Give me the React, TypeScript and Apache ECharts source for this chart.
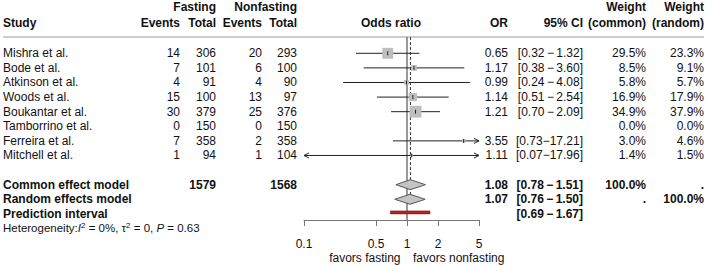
import React, { useEffect, useRef } from "react";
import * as echarts from "echarts";

// ---------- data ----------
const studyNames = [
  "Mishra et al.",
  "Bode et al.",
  "Atkinson et al.",
  "Woods et al.",
  "Boukantar et al.",
  "Tamborrino et al.",
  "Ferreira et al.",
  "Mitchell et al.",
];
const fastingEvents = [14, 7, 4, 15, 30, 0, 7, 1];
const fastingTotal = [306, 101, 91, 100, 379, 150, 358, 94];
const nonfastingEvents = [20, 6, 4, 13, 25, 0, 2, 1];
const nonfastingTotal = [293, 100, 90, 97, 376, 150, 358, 104];
const oddsRatio: (number | null)[] = [0.65, 1.17, 0.99, 1.14, 1.21, null, 3.55, 1.11];
const ciLower: (number | null)[] = [0.32, 0.38, 0.24, 0.51, 0.7, null, 0.73, 0.07];
const ciUpper: (number | null)[] = [1.32, 3.6, 4.08, 2.54, 2.09, null, 17.21, 17.96];
const weightCommon = [29.5, 8.5, 5.8, 16.9, 34.9, 0.0, 3.0, 1.4];
const weightRandom = [23.3, 9.1, 5.7, 17.9, 37.9, 0.0, 4.6, 1.5];

const pooledNames = ["Common effect model", "Random effects model"];
const pooledOR = [1.08, 1.07];
const pooledLower = [0.78, 0.76];
const pooledUpper = [1.51, 1.5];
const pooledWeightCommon = ["100.0%", "."];
const pooledWeightRandom = [".", "100.0%"];
const totalFasting = 1579;
const totalNonfasting = 1568;

const predictionLower = 0.69;
const predictionUpper = 1.67;

const tickValues = [0.1, 0.5, 1, 2, 5];
const tickLabels = ["0.1", "0.5", "1", "2", "5"];
const labelLeft = "favors fasting";
const labelRight = "favors nonfasting";

// ---------- layout ----------
const FONT = '"Liberation Sans", Arial, Helvetica, sans-serif';
const TXT = "#111";
const COL = {
  study: 3,
  fEv: 180,
  fTot: 216,
  nEv: 262,
  nTot: 297,
  odds: 391,
  or: 508,
  ci: 583,
  wC: 646,
  wR: 704,
};
const H1 = -3.15;
const H2 = -2.07;
const POOLED_ROWS = [9, 10];
const PRED_ROW = 11;
const PRED_BAR_ROW = 10.9;
const HET_ROW = 12;
const FAVORS_ROW = 14.02;
const Y_MIN = -1.116;
const Y_MAX = 11.42;

const lg = (v: number) => Math.log10(v);
const AX_MIN = lg(tickValues[0]);
const AX_MAX = lg(tickValues[tickValues.length - 1]);
const f2 = (v: number) => v.toFixed(2);
const fmtCI = (lo: number, hi: number) =>
  hi < 10 ? `[${f2(lo)}\u2009\u2212\u2009${f2(hi)}]` : `[${f2(lo)}\u2212${f2(hi)}]`;
const fmtW = (w: number) => w.toFixed(1) + "%";

type Cell = {
  row: number;
  x: number;
  text: string;
  align: "left" | "right" | "center";
  bold?: boolean;
};

function buildCells(): Cell[] {
  const c: Cell[] = [];
  const add = (row: number, x: number, text: string, align: Cell["align"], bold = false) =>
    c.push({ row, x, text, align, bold });
  // header
  add(H1, COL.fTot, "Fasting", "right", true);
  add(H1, COL.nTot, "Nonfasting", "right", true);
  add(H1, COL.wC, "Weight", "right", true);
  add(H1, COL.wR, "Weight", "right", true);
  add(H2, COL.study, "Study", "left", true);
  add(H2, COL.fEv, "Events", "right", true);
  add(H2, COL.fTot, "Total", "right", true);
  add(H2, COL.nEv, "Events", "right", true);
  add(H2, COL.nTot, "Total", "right", true);
  add(H2, COL.odds, "Odds ratio", "center", true);
  add(H2, COL.or, "OR", "right", true);
  add(H2, COL.ci, "95% CI", "right", true);
  add(H2, COL.wC, "(common)", "right", true);
  add(H2, COL.wR, "(random)", "right", true);
  // studies
  studyNames.forEach((name, i) => {
    add(i, COL.study, name, "left");
    add(i, COL.fEv, String(fastingEvents[i]), "right");
    add(i, COL.fTot, String(fastingTotal[i]), "right");
    add(i, COL.nEv, String(nonfastingEvents[i]), "right");
    add(i, COL.nTot, String(nonfastingTotal[i]), "right");
    const or = oddsRatio[i];
    const lo = ciLower[i];
    const hi = ciUpper[i];
    if (or != null && lo != null && hi != null) {
      add(i, COL.or, f2(or), "right");
      add(i, COL.ci, fmtCI(lo, hi), "right");
    }
    add(i, COL.wC, fmtW(weightCommon[i]), "right");
    add(i, COL.wR, fmtW(weightRandom[i]), "right");
  });
  // pooled
  pooledNames.forEach((name, k) => {
    const r = POOLED_ROWS[k];
    add(r, COL.study, name, "left", true);
    if (k === 0) {
      add(r, COL.fTot, String(totalFasting), "right", true);
      add(r, COL.nTot, String(totalNonfasting), "right", true);
    }
    add(r, COL.or, f2(pooledOR[k]), "right", true);
    add(r, COL.ci, fmtCI(pooledLower[k], pooledUpper[k]), "right", true);
    add(r, COL.wC, pooledWeightCommon[k], "right", true);
    add(r, COL.wR, pooledWeightRandom[k], "right", true);
  });
  add(PRED_ROW, COL.study, "Prediction interval", "left", true);
  add(PRED_ROW, COL.ci, fmtCI(predictionLower, predictionUpper), "right", true);
  return c;
}

export default function App() {
  const ref = useRef<HTMLDivElement>(null);

  useEffect(() => {
    document.body.style.margin = "0";
    if (!ref.current) return;
    const chart = echarts.init(ref.current, undefined, { renderer: "svg" });
    const cells = buildCells();
    const estIdx = oddsRatio.map((v, i) => (v != null ? i : -1)).filter((i) => i >= 0);

    const option: any = {
      animation: false,
      backgroundColor: "#fff",
      grid: { left: 304, right: 230, top: 37, bottom: 47, containLabel: false },
      xAxis: {
        type: "value",
        min: AX_MIN,
        max: AX_MAX,
        position: "bottom",
        axisLine: { show: true, onZero: false, lineStyle: { color: "#777", width: 1 } },
        axisTick: {
          show: true,
          length: 6,
          customValues: tickValues.map(lg),
          lineStyle: { color: "#777", width: 1 },
        },
        axisLabel: {
          customValues: tickValues.map(lg),
          margin: 18,
          fontSize: 12,
          fontFamily: FONT,
          color: TXT,
          formatter: (v: number) => {
            const i = tickValues.findIndex((t) => Math.abs(lg(t) - v) < 1e-6);
            return i >= 0 ? tickLabels[i] : "";
          },
        },
        splitLine: { show: false },
      },
      yAxis: { type: "value", inverse: true, min: Y_MIN, max: Y_MAX, show: false },
      series: [
        // header rule + reference lines
        {
          type: "custom",
          silent: true,
          clip: false,
          data: [[0, 0]],
          renderItem: (_p: any, api: any) => {
            const yTop = api.coord([0, Y_MIN])[1];
            const yBot = api.coord([0, Y_MAX])[1];
            const xRef = api.coord([lg(1), 0])[0];
            const xCom = api.coord([lg(pooledOR[0]), 0])[0];
            const yComEnd = api.coord([0, POOLED_ROWS[1]])[1];
            return {
              type: "group",
              children: [
                {
                  type: "line",
                  shape: { x1: COL.study, y1: yTop, x2: COL.wR, y2: yTop },
                  style: { stroke: "#999", lineWidth: 1 },
                },
                {
                  type: "line",
                  shape: { x1: xRef, y1: yTop, x2: xRef, y2: yBot },
                  style: { stroke: "#777", lineWidth: 1.5 },
                },
                {
                  type: "line",
                  shape: { x1: xCom, y1: yTop, x2: xCom, y2: yComEnd },
                  style: { stroke: "#333", lineWidth: 1, lineDash: [3, 2] },
                },
              ],
            };
          },
        },
        // study CIs and squares
        {
          type: "custom",
          silent: true,
          clip: false,
          data: estIdx.map((i) => [lg(oddsRatio[i] as number), i]),
          renderItem: (p: any, api: any) => {
            const i = estIdx[p.dataIndex];
            const y = api.coord([0, i])[1];
            const xMin = api.coord([AX_MIN, 0])[0];
            const xMax = api.coord([AX_MAX, 0])[0];
            const xl = api.coord([lg(ciLower[i] as number), 0])[0];
            const xh = api.coord([lg(ciUpper[i] as number), 0])[0];
            const xc = api.coord([lg(oddsRatio[i] as number), 0])[0];
            const x0 = Math.max(xl, xMin);
            const x1 = Math.min(xh, xMax);
            const side = 2 * Math.sqrt(weightCommon[i]);
            const children: any[] = [
              {
                type: "line",
                shape: { x1: x0, y1: y, x2: x1, y2: y },
                style: { stroke: "#222", lineWidth: 1 },
              },
            ];
            if (xl < xMin) {
              children.push({
                type: "polyline",
                shape: { points: [[x0 + 5, y - 2.5], [x0, y], [x0 + 5, y + 2.5]] },
                style: { stroke: "#222", lineWidth: 1, fill: null },
              });
            }
            if (xh > xMax) {
              children.push({
                type: "polyline",
                shape: { points: [[x1 - 5, y - 2.5], [x1, y], [x1 - 5, y + 2.5]] },
                style: { stroke: "#222", lineWidth: 1, fill: null },
              });
            }
            children.push({
              type: "rect",
              shape: { x: xc - side / 2, y: y - side / 2, width: side, height: side },
              style: { fill: "#BEBEBE" },
            });
            children.push({
              type: "line",
              shape: { x1: xc, y1: y - 2, x2: xc, y2: y + 2 },
              style: { stroke: "#222", lineWidth: 1 },
            });
            return { type: "group", children };
          },
        },
        // pooled diamonds
        {
          type: "custom",
          silent: true,
          clip: false,
          data: pooledOR.map((v, k) => [lg(v), POOLED_ROWS[k]]),
          renderItem: (p: any, api: any) => {
            const k = p.dataIndex;
            const y = api.coord([0, POOLED_ROWS[k]])[1];
            const xl = api.coord([lg(pooledLower[k]), 0])[0];
            const xh = api.coord([lg(pooledUpper[k]), 0])[0];
            const xc = api.coord([lg(pooledOR[k]), 0])[0];
            return {
              type: "polygon",
              shape: { points: [[xl, y], [xc, y - 5], [xh, y], [xc, y + 5]] },
              style: { fill: "#C4C4C4", stroke: "#555", lineWidth: 1 },
            };
          },
        },
        // prediction interval
        {
          type: "custom",
          silent: true,
          clip: false,
          data: [[lg(predictionLower), PRED_BAR_ROW]],
          renderItem: (_p: any, api: any) => {
            const y = api.coord([0, PRED_BAR_ROW])[1];
            const xl = api.coord([lg(predictionLower), 0])[0];
            const xh = api.coord([lg(predictionUpper), 0])[0];
            return {
              type: "rect",
              shape: { x: xl, y: y - 1.5, width: xh - xl, height: 3 },
              style: { fill: "#B02424", stroke: "#801818", lineWidth: 0.6 },
            };
          },
        },
        // table text
        {
          type: "custom",
          silent: true,
          clip: false,
          data: cells.map((c) => [0, c.row]),
          renderItem: (p: any, api: any) => {
            const c = cells[p.dataIndex];
            const y = api.coord([0, c.row])[1];
            return {
              type: "text",
              x: c.x,
              y,
              style: {
                text: c.text,
                textAlign: c.align,
                textVerticalAlign: "middle",
                fill: TXT,
                font: `${c.bold ? "bold " : ""}12px ${FONT}`,
              },
            };
          },
        },
        // heterogeneity + favors labels
        {
          type: "custom",
          silent: true,
          clip: false,
          data: [[0, HET_ROW]],
          renderItem: (_p: any, api: any) => {
            const yHet = api.coord([0, HET_ROW])[1];
            const yFav = api.coord([0, FAVORS_ROW])[1];
            const xRef = api.coord([lg(1), 0])[0];
            return {
              type: "group",
              children: [
                {
                  type: "text",
                  x: COL.study,
                  y: yHet,
                  style: {
                    text:
                      "{n|Heterogeneity:}{it|I}{sup|2}{n| = 0%, \u03c4}{sup|2}{n| = 0, }{it|P}{n| = 0.63}",
                    textAlign: "left",
                    textVerticalAlign: "middle",
                    fill: TXT,
                    font: `11.5px ${FONT}`,
                    rich: {
                      n: { fontSize: 11.5, fontFamily: FONT, lineHeight: 14, fill: TXT },
                      it: {
                        fontSize: 11.5,
                        fontFamily: FONT,
                        fontStyle: "italic",
                        lineHeight: 14,
                        fill: TXT,
                      },
                      sup: {
                        fontSize: 8,
                        fontFamily: FONT,
                        lineHeight: 8,
                        verticalAlign: "top",
                        fill: TXT,
                      },
                    },
                  },
                },
                {
                  type: "text",
                  x: xRef - 6.5,
                  y: yFav,
                  style: {
                    text: labelLeft,
                    textAlign: "right",
                    textVerticalAlign: "middle",
                    fill: TXT,
                    font: `12px ${FONT}`,
                  },
                },
                {
                  type: "text",
                  x: xRef + 6,
                  y: yFav,
                  style: {
                    text: labelRight,
                    textAlign: "left",
                    textVerticalAlign: "middle",
                    fill: TXT,
                    font: `12px ${FONT}`,
                  },
                },
              ],
            };
          },
        },
      ],
    };

    chart.setOption(option);
    return () => chart.dispose();
  }, []);

  return (
    <div
      ref={ref}
      style={{ position: "absolute", left: 0, top: 0, width: 709, height: 267, background: "#fff" }}
    />
  );
}
